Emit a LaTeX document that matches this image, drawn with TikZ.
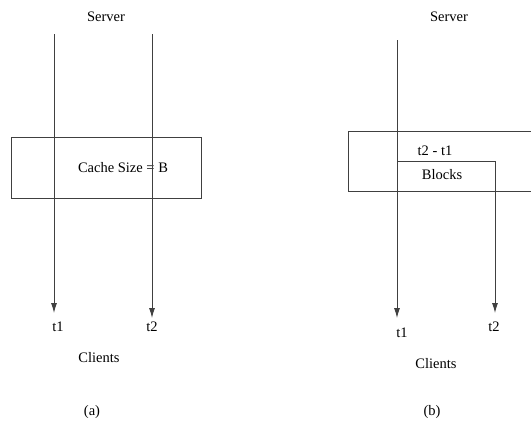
\documentclass[tikz,border=0pt]{standalone}
\usepackage{fontspec}
\setmainfont{Liberation Serif}
\usetikzlibrary{arrows.meta}
\begin{document}
\begin{tikzpicture}[x=1pt,y=-1pt,
  ln/.style={line width=0.9pt,draw=black!75},
  arr/.style={ln,-{Latex[length=10pt,width=6pt]}},
  lbl/.style={font=\fontsize{14.5}{16}\selectfont,inner sep=0pt}]
\useasboundingbox (0,0) rectangle (531,421);
% panel (a)
\node[lbl] (serverA) at (106,17) {Server};
\coordinate (a1s) at (54,34);
\coordinate (a2s) at (152,34);
\coordinate (a1e) at (54,313);
\coordinate (a2e) at (152,318);
\node[ln,draw,minimum width=190pt,minimum height=61pt,inner sep=0pt] (cache) at (106,167.5) {};
\node[lbl] (cachetxt) at (123,168) {Cache Size = B};
\draw[arr] (a1s) -- (a1e);
\draw[arr] (a2s) -- (a2e);
\node[lbl] (t1a) at (58,327) {t1};
\node[lbl] (t2a) at (152,327) {t2};
\node[lbl] (clientsA) at (99,358) {Clients};
\node[lbl] (capA) at (92,412) {(a)};
% panel (b)
\node[lbl] (serverB) at (449,17) {Server};
\coordinate (b1s) at (397,40);
\coordinate (b1e) at (397,318);
\coordinate (bTL) at (531,131);
\coordinate (bTR) at (348,131);
\coordinate (bBL) at (348,191);
\coordinate (bBR) at (531,191);
\draw[ln] (bTL) -- (bTR) -- (bBL) -- (bBR);
\coordinate (k1) at (397,161);
\coordinate (k2) at (495,161);
\coordinate (b2e) at (495,313);
\draw[arr] (b1s) -- (b1e);
\draw[arr] (k1) -- (k2) -- (b2e);
\node[lbl] (diff) at (435,151) {t2 - t1};
\node[lbl] (blocks) at (442,175) {Blocks};
\node[lbl] (t1b) at (402,333) {t1};
\node[lbl] (t2b) at (494,327) {t2};
\node[lbl] (clientsB) at (436,364) {Clients};
\node[lbl] (capB) at (432,412) {(b)};
\end{tikzpicture}
\end{document}
